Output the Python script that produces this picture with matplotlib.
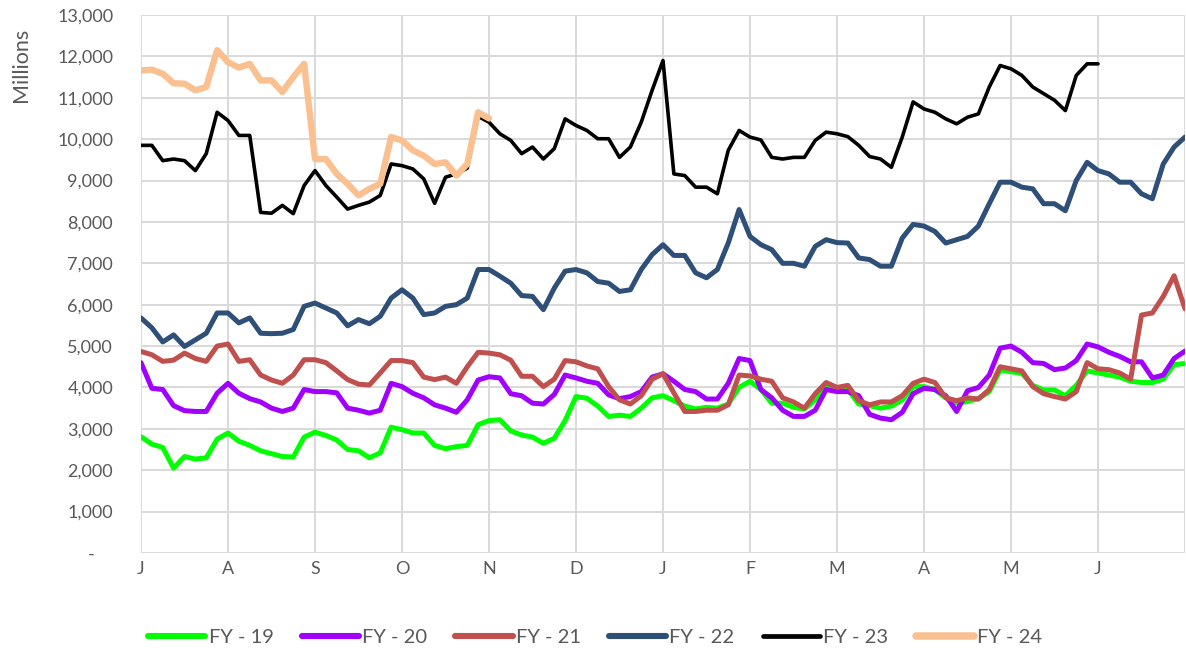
import numpy as np
import matplotlib
matplotlib.use("Agg")
import matplotlib.pyplot as plt
from matplotlib.ticker import FuncFormatter

# Month tick labels (fiscal year July -> June)
months = ["J", "A", "S", "O", "N", "D", "J", "F", "M", "A", "M", "J"]
steps_per_month = 8  # values read every 1/8 month

# Values in thousands of millions
fy19 = [2.81, 2.63, 2.55, 2.05, 2.33, 2.27, 2.3, 2.75, 2.9, 2.7, 2.6, 2.47, 2.4, 2.33, 2.32, 2.8,
        2.92, 2.84, 2.73, 2.5, 2.47, 2.3, 2.42, 3.04, 2.98, 2.9, 2.9, 2.6, 2.52, 2.57, 2.6, 3.1, 3.2,
        3.22, 2.95, 2.85, 2.8, 2.65, 2.77, 3.2, 3.78, 3.74, 3.55, 3.3, 3.33, 3.3, 3.5, 3.75, 3.8,
        3.68, 3.55, 3.48, 3.52, 3.5, 3.6, 4.0, 4.15, 3.95, 3.62, 3.62, 3.52, 3.48, 3.7, 4.05, 4.0,
        3.95, 3.6, 3.56, 3.5, 3.55, 3.7, 4.02, 4.02, 3.95, 3.75, 3.62, 3.66, 3.73, 3.9, 4.42, 4.38,
        4.34, 4.05, 3.94, 3.94, 3.8, 4.05, 4.4, 4.35, 4.3, 4.25, 4.15, 4.12, 4.12, 4.2, 4.55, 4.58]

fy20 = [4.6, 3.98, 3.95, 3.56, 3.44, 3.42, 3.42, 3.86, 4.1, 3.86, 3.73, 3.65, 3.5, 3.42, 3.5, 3.95,
        3.9, 3.9, 3.87, 3.5, 3.45, 3.38, 3.45, 4.1, 4.02, 3.86, 3.75, 3.58, 3.5, 3.4, 3.7, 4.18, 4.26,
        4.23, 3.85, 3.8, 3.62, 3.6, 3.83, 4.3, 4.23, 4.15, 4.1, 3.82, 3.73, 3.78, 3.9, 4.25, 4.33,
        4.15, 3.95, 3.9, 3.72, 3.72, 4.1, 4.7, 4.65, 3.95, 3.75, 3.45, 3.3, 3.3, 3.45, 3.95, 3.9,
        3.9, 3.8, 3.35, 3.26, 3.22, 3.4, 3.85, 3.98, 3.95, 3.8, 3.42, 3.92, 4.0, 4.3, 4.95, 5.0,
        4.85, 4.6, 4.58, 4.43, 4.47, 4.65, 5.05, 4.98, 4.85, 4.75, 4.62, 4.62, 4.23, 4.3, 4.7, 4.88]

fy21 = [4.87, 4.79, 4.63, 4.66, 4.83, 4.7, 4.63, 5.0, 5.05, 4.63, 4.67, 4.3, 4.18, 4.1, 4.3, 4.67,
        4.67, 4.6, 4.4, 4.19, 4.08, 4.06, 4.35, 4.65, 4.65, 4.6, 4.25, 4.19, 4.25, 4.1, 4.5, 4.85, 4.83,
        4.79, 4.66, 4.27, 4.27, 4.02, 4.2, 4.65, 4.62, 4.52, 4.45, 4.02, 3.7, 3.6, 3.8, 4.2, 4.33,
        3.87, 3.42, 3.42, 3.45, 3.45, 3.58, 4.3, 4.28, 4.2, 4.15, 3.75, 3.65, 3.5, 3.85, 4.12, 4.0,
        4.05, 3.68, 3.58, 3.65, 3.65, 3.8, 4.1, 4.2, 4.12, 3.75, 3.68, 3.75, 3.72, 3.95, 4.5, 4.45,
        4.4, 4.02, 3.85, 3.78, 3.72, 3.9, 4.6, 4.45, 4.43, 4.35, 4.2, 5.75, 5.8, 6.2, 6.7, 5.9]

fy22 = [5.68, 5.44, 5.1, 5.27, 4.99, 5.15, 5.31, 5.8, 5.8, 5.56, 5.68, 5.31, 5.3, 5.31, 5.4, 5.96,
        6.04, 5.92, 5.8, 5.49, 5.64, 5.54, 5.72, 6.16, 6.36, 6.16, 5.76, 5.8, 5.96, 6.0, 6.16, 6.85, 6.85,
        6.69, 6.52, 6.22, 6.2, 5.88, 6.4, 6.81, 6.85, 6.77, 6.56, 6.52, 6.32, 6.36, 6.85, 7.21, 7.45,
        7.19, 7.19, 6.77, 6.65, 6.85, 7.49, 8.3, 7.65, 7.45, 7.33, 7.0, 7.0, 6.93, 7.41, 7.57, 7.5,
        7.49, 7.13, 7.09, 6.93, 6.93, 7.61, 7.94, 7.9, 7.77, 7.49, 7.57, 7.65, 7.9, 8.44, 8.96, 8.96,
        8.84, 8.8, 8.44, 8.44, 8.27, 9.0, 9.44, 9.24, 9.16, 8.96, 8.96, 8.68, 8.56, 9.4, 9.81, 10.05]

fy23 = [9.85, 9.85, 9.48, 9.52, 9.48, 9.24, 9.65, 10.65, 10.45, 10.09, 10.09, 8.23, 8.21, 8.4, 8.2,
        8.88, 9.24, 8.88, 8.6, 8.31, 8.4, 8.48, 8.64, 9.4, 9.36, 9.28, 9.04, 8.45, 9.08, 9.16, 9.3,
        10.55, 10.41,
        10.13, 9.97, 9.65, 9.81, 9.52, 9.77, 10.49, 10.33, 10.21, 10.01, 10.01, 9.56, 9.81, 10.41,
        11.18, 11.9, 9.16, 9.12, 8.84, 8.84, 8.68, 9.73, 10.21, 10.05, 9.98, 9.56, 9.52, 9.56, 9.56,
        9.97, 10.17, 10.13,
        10.06, 9.85, 9.58, 9.52, 9.32, 10.05, 10.9, 10.73, 10.65, 10.49, 10.37, 10.53, 10.61, 11.26,
        11.78, 11.7, 11.54, 11.26, 11.1, 10.94, 10.69, 11.54, 11.82, 11.82]

fy24 = [11.66, 11.68, 11.58, 11.35, 11.34, 11.18, 11.26, 12.15, 11.86, 11.73, 11.82, 11.42, 11.42,
        11.14, 11.5, 11.82, 9.52, 9.52, 9.16, 8.92, 8.64, 8.8, 8.92, 10.05, 9.97, 9.73, 9.6, 9.4,
        9.44, 9.12, 9.4, 10.65, 10.5]

series_names = ["FY - 19", "FY - 20", "FY - 21", "FY - 22", "FY - 23", "FY - 24"]
series_values = [fy19, fy20, fy21, fy22, fy23, fy24]
colors = ["#00FF00", "#A100FF", "#C0504D", "#2E5078", "#000000", "#FAC090"]
widths = [3.6, 3.6, 3.6, 3.6, 2.6, 4.6]

FONT = ["Lato", "DejaVu Sans"]
TXT = "#595959"

fig = plt.figure(figsize=(11.86, 6.54), dpi=100)
ax = fig.add_axes([141 / 1186, 1 - 553 / 654, 1044 / 1186, (553 - 15) / 654])

for name, vals, c, lw in zip(series_names, series_values, colors, widths):
    y = np.array(vals) * 1000
    x = np.arange(len(y)) / steps_per_month
    ax.plot(x, y, color=c, lw=lw, label=name, solid_joinstyle="round", solid_capstyle="round")

ax.set_xlim(0, 12)
ax.set_ylim(0, 13000)
ax.set_yticks(np.arange(0, 13001, 1000))
ax.yaxis.set_major_formatter(FuncFormatter(lambda v, p: "-    " if v == 0 else f"{v:,.0f}"))
ax.set_xticks(np.arange(0, 13))
ax.set_xticklabels(months + [""])
ax.grid(True, color="#D9D9D9", lw=1.4)
ax.set_axisbelow(True)
for s in ax.spines.values():
    s.set_visible(False)
ax.tick_params(axis="both", length=0, colors=TXT, labelsize=13)
ax.tick_params(axis="y", pad=20)
ax.tick_params(axis="x", pad=6)
for lab in ax.get_xticklabels() + ax.get_yticklabels():
    lab.set_family(FONT)

fig.text(21 / 1186, 1 - 65 / 654, "Millions", rotation=90, ha="center", va="center",
         color=TXT, fontsize=15.5, family=FONT)

leg = fig.legend(loc="center", bbox_to_anchor=(0.5017, 1 - 637 / 654), ncol=6, frameon=False,
                 handlelength=2.85, handletextpad=0.15, columnspacing=1.4,
                 prop={"family": FONT, "size": 14.5})
for t in leg.get_texts():
    t.set_color(TXT)
for h, lw in zip(leg.get_lines(), widths):
    h.set_linewidth(lw + 0.8)
    h.set_solid_capstyle("round")

fig.savefig("out.png", dpi=100)
